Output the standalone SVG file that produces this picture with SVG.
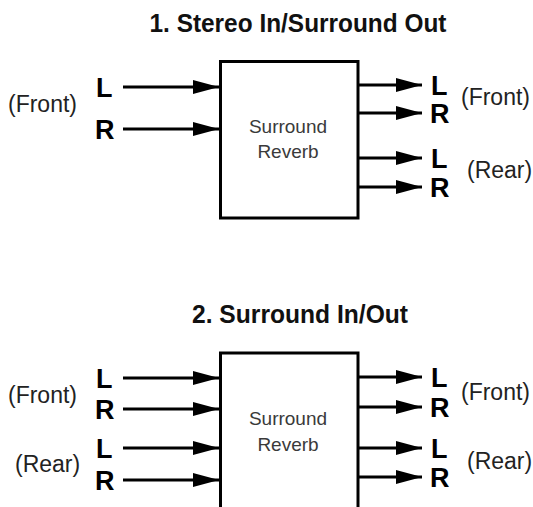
<svg xmlns="http://www.w3.org/2000/svg" width="533" height="507" viewBox="0 0 533 507">
<style>
.title{font-family:"Liberation Sans",Arial,sans-serif;font-weight:bold;font-size:26px;fill:#111;text-anchor:middle}
.ch{font-family:"Liberation Sans",Arial,sans-serif;font-weight:bold;font-size:27px;fill:#000}
.grp{font-family:"Liberation Sans",Arial,sans-serif;font-size:23px;fill:#222}
.box{fill:#fff;stroke:#000;stroke-width:3}
.btxt{font-family:"Liberation Sans",Arial,sans-serif;font-size:19px;fill:#3a3a3a;text-anchor:middle}
.wire{stroke:#000;stroke-width:3;fill:none;marker-end:url(#arr)}
</style>
<defs>
<marker id="arr" markerUnits="userSpaceOnUse" viewBox="0 0 26 14" refX="26" refY="7" markerWidth="26" markerHeight="14" orient="auto">
<path d="M0,0 L26,7 L0,14 Z" fill="#000"/>
</marker>
</defs>
<rect width="533" height="507" fill="#fff"/>

<g id="title1"><text class="title" x="298" y="32" textLength="297" lengthAdjust="spacingAndGlyphs">1. Stereo In/Surround Out</text></g>
<g id="title2"><text class="title" x="300" y="323" textLength="216" lengthAdjust="spacingAndGlyphs">2. Surround In/Out</text></g>

<g id="connectors">
<line class="wire" x1="123" y1="87" x2="219" y2="87"/>
<line class="wire" x1="123" y1="129" x2="219" y2="129"/>
<line class="wire" x1="358" y1="85" x2="422" y2="85"/>
<line class="wire" x1="358" y1="113" x2="422" y2="113"/>
<line class="wire" x1="358" y1="158" x2="422" y2="158"/>
<line class="wire" x1="358" y1="187" x2="422" y2="187"/>

<line class="wire" x1="123" y1="378" x2="219" y2="378"/>
<line class="wire" x1="123" y1="409" x2="219" y2="409"/>
<line class="wire" x1="123" y1="448" x2="219" y2="448"/>
<line class="wire" x1="123" y1="480" x2="219" y2="480"/>
<line class="wire" x1="358" y1="377" x2="422" y2="377"/>
<line class="wire" x1="358" y1="407" x2="422" y2="407"/>
<line class="wire" x1="358" y1="448" x2="422" y2="448"/>
<line class="wire" x1="358" y1="477" x2="422" y2="477"/>
</g>

<g id="reverb1">
<rect class="box" x="220.5" y="61.5" width="137.5" height="156.5"/>
<text class="btxt" x="288" y="133">Surround</text>
<text class="btxt" x="288" y="158">Reverb</text>
</g>
<g id="reverb2">
<rect class="box" x="220.5" y="353" width="137.5" height="170"/>
<text class="btxt" x="288" y="425">Surround</text>
<text class="btxt" x="288" y="451">Reverb</text>
</g>

<g id="in1">
<text class="grp" x="8" y="112">(Front)</text>
<text class="ch" x="96" y="97">L</text>
<text class="ch" x="95" y="139">R</text>
</g>
<g id="out1">
<text class="ch" x="431" y="95">L</text>
<text class="ch" x="430" y="123">R</text>
<text class="grp" x="461" y="105">(Front)</text>
<text class="ch" x="431" y="168">L</text>
<text class="ch" x="430" y="197">R</text>
<text class="grp" x="467" y="178">(Rear)</text>
</g>
<g id="in2">
<text class="grp" x="8" y="403">(Front)</text>
<text class="ch" x="96" y="388">L</text>
<text class="ch" x="95" y="419">R</text>
<text class="grp" x="15" y="472">(Rear)</text>
<text class="ch" x="96" y="458">L</text>
<text class="ch" x="95" y="490">R</text>
</g>
<g id="out2">
<text class="ch" x="431" y="387">L</text>
<text class="ch" x="430" y="417">R</text>
<text class="grp" x="461" y="400">(Front)</text>
<text class="ch" x="431" y="458">L</text>
<text class="ch" x="430" y="487">R</text>
<text class="grp" x="467" y="469">(Rear)</text>
</g>
</svg>
